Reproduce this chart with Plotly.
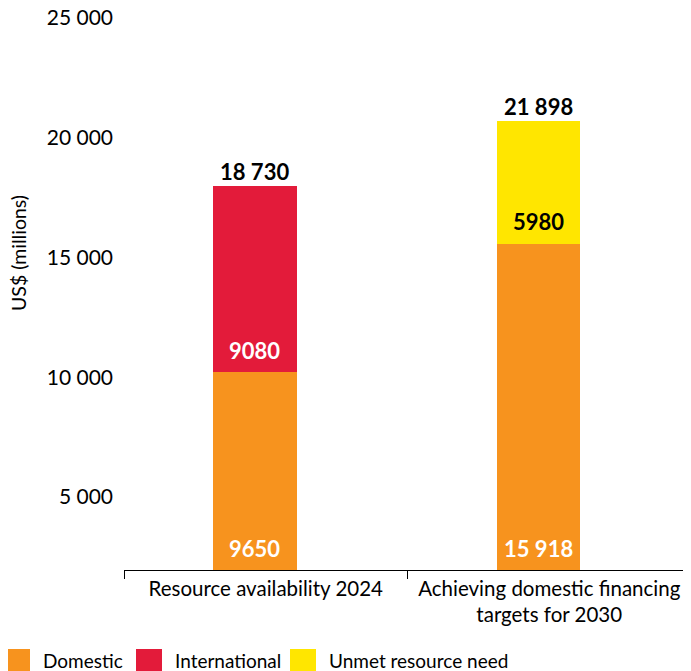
import plotly.graph_objects as go

# dados (US$ milhões)
CATEGORIAS = ["Resource availability 2024", "Achieving domestic financing<br>targets for 2030"]
DOMESTIC = [9650, 15918]
INTERNATIONAL = [9080, None]
UNMET = [None, 5980]
TOTAIS = [18730, 21898]

TICK_VALS = [5000, 10000, 15000, 20000, 25000]
TICK_TEXT = ["5 000", "10 000", "15 000", "20 000", "25 000"]

SERIES = [
    ("Domestic", DOMESTIC, "#F7931E", "white"),
    ("International", INTERNATIONAL, "#E31B3A", "white"),
    ("Unmet resource need", UNMET, "#FFE600", "black"),
]

FONTE = "Lato, 'Open Sans', sans-serif"
BAR_W = 0.296
BAR_OFF = -0.186


def fmt(v):
    return f"{v:,}".replace(",", " ") if v >= 10000 else str(v)


fig = go.Figure()
for nome, vals, cor, _ in SERIES:
    fig.add_trace(go.Bar(
        x=CATEGORIAS, y=vals, name=nome, marker_color=cor,
        marker_line_width=0, width=BAR_W, offset=BAR_OFF,
        showlegend=False, hoverinfo="skip",
    ))

# traço invisível só para o eixo dos rótulos aparecer
fig.add_trace(go.Scatter(
    x=[CATEGORIAS[0]], y=[TICK_VALS[0]], yaxis="y2", mode="markers",
    marker=dict(opacity=0), showlegend=False, hoverinfo="skip",
))

# rótulos dentro dos segmentos e totais
annotations = []
centro = BAR_OFF + BAR_W / 2
for i in range(len(CATEGORIAS)):
    base = 0
    for nome, vals, cor, cor_txt in SERIES:
        v = vals[i]
        if v is None:
            continue
        annotations.append(dict(
            x=i + centro, y=base, xref="x", yref="y", text=f"<b>{fmt(v)}</b>",
            showarrow=False, yanchor="middle", yshift=22,
            font=dict(size=22, color=cor_txt, family=FONTE),
        ))
        base += v
    annotations.append(dict(
        x=i + centro, y=base, xref="x", yref="y", text=f"<b>{fmt(TOTAIS[i])}</b>",
        showarrow=False, yanchor="middle", yshift=15,
        font=dict(size=22, color="black", family=FONTE),
    ))

# título do eixo y
annotations.append(dict(
    x=0, y=0, xref="paper", yref="paper", xshift=-106, yshift=317,
    text="US$ (millions)", textangle=-90, showarrow=False,
    xanchor="center", yanchor="middle",
    font=dict(size=19.5, color="black", family=FONTE),
))

# legenda manual (quadrados grandes)
shapes = []
leg_x = [-120, 12, 166]
for (nome, _, cor, _), lx in zip(SERIES, leg_x):
    shapes.append(dict(
        type="rect", xref="paper", yref="paper", xsizemode="pixel", ysizemode="pixel",
        xanchor=0, yanchor=0, x0=lx, x1=lx + 26, y0=-79, y1=-105,
        fillcolor=cor, line_width=0,
    ))
    annotations.append(dict(
        x=0, y=0, xref="paper", yref="paper", xshift=lx + 37, yshift=-90,
        text=nome, showarrow=False, xanchor="left", yanchor="middle",
        font=dict(size=19, color="black", family=FONTE),
    ))

# a página tem 8 px de margem no body: compensado nas margens
fig.update_layout(
    width=691, height=671,
    margin=dict(l=116, r=8, t=2, b=109, autoexpand=False),
    barmode="stack",
    paper_bgcolor="white", plot_bgcolor="white",
    font=dict(family=FONTE, color="black"),
    annotations=annotations,
    shapes=shapes,
    showlegend=False,
    xaxis=dict(
        type="category", range=[-0.5, 1.5], automargin=False,
        showline=True, linecolor="black", linewidth=1,
        ticks="outside", tickson="boundaries", ticklen=8, tickcolor="black",
        tickfont=dict(size=20.5, color="black", family=FONTE),
        showgrid=False,
    ),
    yaxis=dict(range=[0, 27317], visible=False, showgrid=False, zeroline=False,
               automargin=False),
    yaxis2=dict(
        overlaying="y", side="left", range=[1952, 25334], automargin=False,
        tickvals=TICK_VALS, ticktext=TICK_TEXT, ticks="",
        showgrid=False, zeroline=False, showline=False,
        ticklabelstandoff=10, ticklabeloverflow="allow",
        tickfont=dict(size=21, color="black", family=FONTE),
    ),
)

fig.write_html("out.html")
